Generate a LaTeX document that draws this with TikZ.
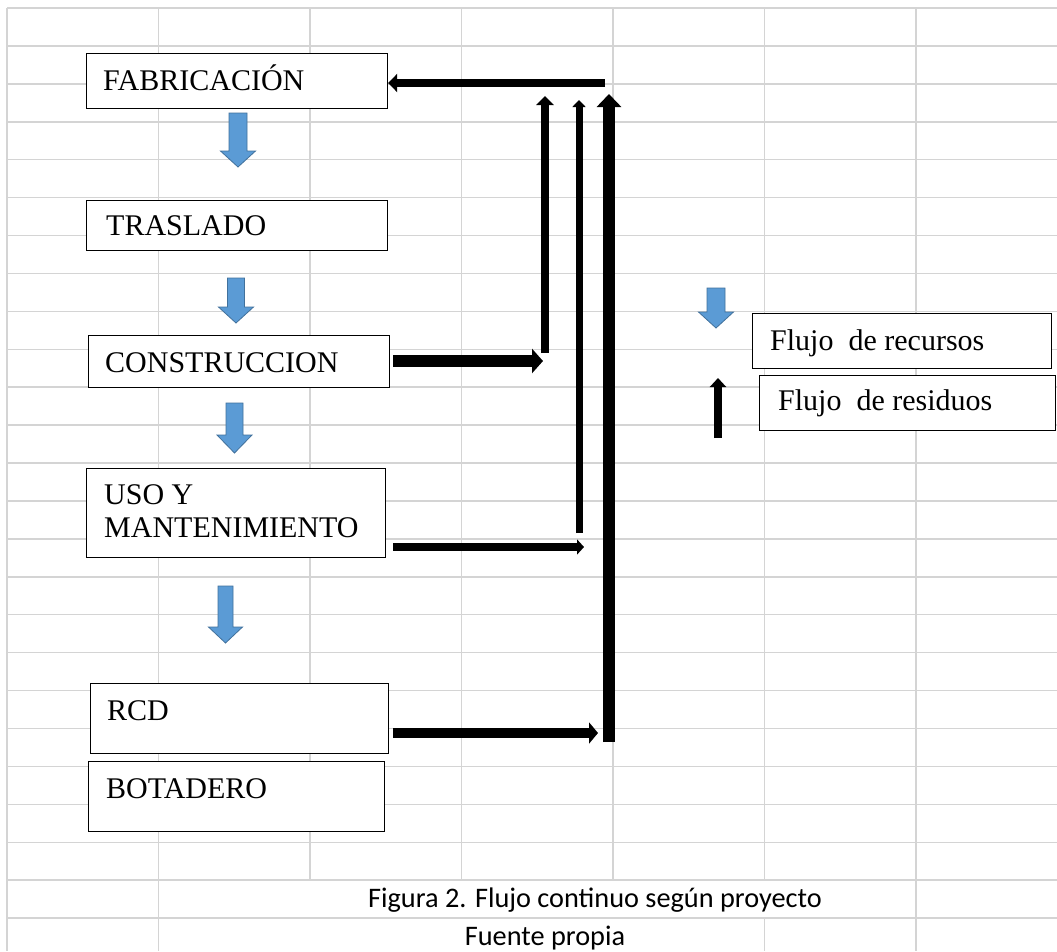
\documentclass[tikz,border=0pt]{standalone}
\usepackage{fontspec}
\setmainfont{Liberation Serif}
\newfontfamily\calib{Carlito}
\usetikzlibrary{arrows.meta}
\definecolor{gridc}{HTML}{D4D4D4}
\definecolor{bluef}{HTML}{5B9BD5}
\definecolor{blued}{HTML}{41719C}
\newcommand{\mybarrow}[6]{% cx, top, headstart, tip, shaft half width, head half width
  \filldraw[fill=bluef, draw=blued, line width=0.8pt, line join=miter]
    ({#1-#5},#2) -- ({#1+#5},#2) -- ({#1+#5},#3) -- ({#1+#6},#3) -- (#1,#4)
    -- ({#1-#6},#3) -- ({#1-#5},#3) -- cycle;}
\begin{document}
\begin{tikzpicture}[x=1pt,y=-1pt,
  gridline/.style={draw=gridc, line width=1.5pt},
  box/.style={draw=black, line width=1.2pt, fill=white, inner sep=0pt, anchor=north west},
  lbl/.style={anchor=base west, inner sep=0pt, font=\fontsize{30}{33}\selectfont},
  captxt/.style={anchor=base, inner sep=0pt, font=\calib\fontsize{28.3}{30}\selectfont}]
\useasboundingbox[fill=white] (0,0) rectangle (1057,951);
% grid
\foreach \k in {0,...,24} \draw[gridline] (7,{8+37.92*\k}) -- (1057,{8+37.92*\k});
\foreach \xx in {7,158.5,310,461.5,613,764.5,916} \draw[gridline] (\xx,8) -- (\xx,880.2);
\foreach \xx in {7,158.5,916} \draw[gridline] (\xx,880.2) -- (\xx,951);
\draw[gridline] (764.5,918) -- (764.5,951);

% boxes
\node[box, minimum width=301pt, minimum height=55pt] (fab) at (86,53) {};
\node[lbl] (fabt) at (103,90) {FABRICACIÓN};
\node[box, minimum width=301pt, minimum height=50pt] (tra) at (86,200) {};
\node[lbl] (trat) at (106,235) {TRASLADO};
\node[box, minimum width=301pt, minimum height=52pt] (con) at (88,335) {};
\node[lbl] (cont) at (105,372) {CONSTRUCCION};
\node[box, minimum width=299pt, minimum height=89pt] (uso) at (86,468) {};
\node[lbl] (usot1) at (104,504) {USO Y};
\node[lbl] (usot2) at (104,537) {MANTENIMIENTO};
\node[box, minimum width=298pt, minimum height=70pt] (rcd) at (90,683) {};
\node[lbl] (rcdt) at (107,720) {RCD};
\node[box, minimum width=296pt, minimum height=70pt] (bot) at (88,761) {};
\node[lbl] (bott) at (106,798) {BOTADERO};
\node[box, minimum width=299pt, minimum height=55pt] (rec) at (752,313) {};
\node[lbl] (rect) at (770,350) {Flujo~~de recursos};
\node[box, minimum width=296pt, minimum height=55pt] (res) at (759,375) {};
\node[lbl] (rest) at (778,410) {Flujo~~de residuos};

% blue block arrows
\mybarrow{238}{113}{151}{167}{9}{17.5}
\mybarrow{236}{278}{307}{323}{8.5}{17.5}
\mybarrow{234.5}{403}{435}{453}{8.5}{17.5}
\mybarrow{225.5}{586}{627}{643}{7.5}{17}
\mybarrow{716}{288}{312}{328}{9}{17.5}

% black flow arrows
\coordinate (t0) at (605,83);
\coordinate (v1b) at (545,353);
\coordinate (v1t) at (545,96);
\coordinate (v2b) at (579,533);
\coordinate (v2t) at (579,100);
\coordinate (v3b) at (609,742);
\coordinate (v3t) at (609,94);
\coordinate (h1) at (543,361);
\coordinate (h2) at (584,547);
\coordinate (h3) at (598,733);
\coordinate (lgb) at (718,438);
\coordinate (lgt) at (718,378);

\draw[line width=8.5pt, -{Triangle[length=9pt,width=18pt]}] (t0) -- (fab.east |- t0);
\draw[line width=8.5pt, -{Triangle[length=9pt,width=17pt]}] (v1b) -- (v1t);
\draw[line width=7pt, -{Triangle[length=7pt,width=13pt]}] (v2b) -- (v2t);
\draw[line width=12pt, -{Triangle[length=13pt,width=24pt]}] (v3b) -- (v3t);
\draw[line width=12pt, -{Triangle[length=11pt,width=24pt]}] ([xshift=3pt]con.east |- h1) -- (h1);
\draw[line width=7.5pt, -{Triangle[length=7pt,width=15pt]}] ([xshift=7pt]uso.east |- h2) -- (h2);
\draw[line width=10pt, -{Triangle[length=9pt,width=21pt]}] ([xshift=4pt]rcd.east |- h3) -- (h3);
\draw[line width=8pt, -{Triangle[length=9pt,width=16pt]}] (lgb) -- (lgt);

% caption
\node[captxt] (cap1) at (595,907) {Figura 2. Flujo continuo según proyecto};
\node[captxt] (cap2) at (545,945) {Fuente propia};
\end{tikzpicture}
\end{document}
